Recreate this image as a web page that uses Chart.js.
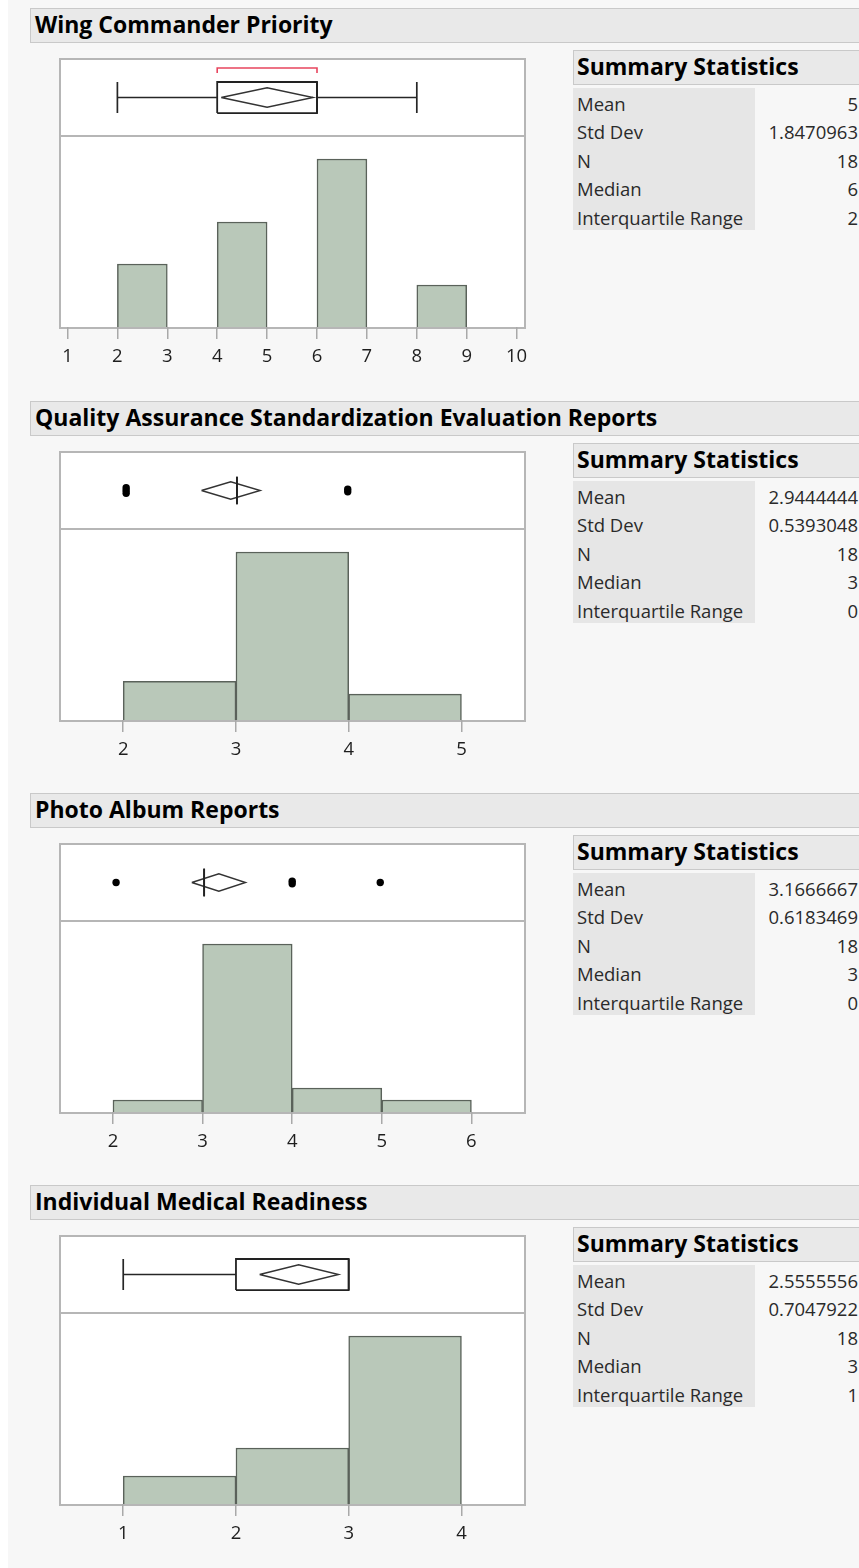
<!DOCTYPE html>
<html>
<head>
<meta charset="utf-8">
<script src="https://cdn.jsdelivr.net/npm/chart.js@4.4.1/dist/chart.umd.min.js"></script>
<style>
    html, body { margin: 0; padding: 0; background: #fff; }
    body { width: 859px; height: 1568px; overflow: hidden; position: relative; font-family: "Open Sans", sans-serif; }
    #page { position: absolute; left: 8px; top: 0; right: 0; bottom: 0; background: #f7f7f7; }
    .panel { position: absolute; left: 0; width: 859px; height: 392px; }
    .hdr {
        position: absolute; left: 30px; top: 8px; width: 840px; height: 35px; box-sizing: border-box;
        background: #e9e9e9; border: 1px solid #c9c9c9; border-right: none;
        font-weight: bold; font-size: 23px; line-height: 30px; padding-left: 4px; color: #000; white-space: nowrap;
    }
    .frame { position: absolute; left: 59px; top: 58px; width: 467px; height: 271px; box-sizing: border-box; border: 2px solid #b6b6b6; background: #fff; }
    .divider { position: absolute; left: 61px; top: 135px; width: 463px; height: 2px; background: #b6b6b6; }
    canvas { position: absolute; }
    .stats { position: absolute; left: 573px; top: 50px; width: 300px; }
    .stats-hdr {
        height: 35px; box-sizing: border-box; background: #e9e9e9; border: 1px solid #c9c9c9; border-right: none;
        font-weight: bold; font-size: 23px; line-height: 30px; padding-left: 3px; color: #000; white-space: nowrap;
    }
    .stats-rows { margin-top: 3px; }
    .row { display: flex; height: 28.4px; font-size: 18.5px; color: #2a2a2a; white-space: nowrap; }
    .row span { box-sizing: border-box; height: 28.4px; padding-top: 4px; line-height: 24px; }
    .row .lbl { width: 182px; background: #e6e6e6; padding-left: 4px; }
    .row .val { width: 103px; text-align: right; }
</style>
</head>
<body>
<div id="page"></div>
<div id="panels"></div>
<script>
// ─── Data ────────────────────────────────────────────

var statLabels = ['Mean', 'Std Dev', 'N', 'Median', 'Interquartile Range'];

// Wing Commander Priority
var wingBinStarts    = [2, 4, 6, 8];
var wingCounts       = [3, 5, 8, 2];
var wingTicks        = [1, 2, 3, 4, 5, 6, 7, 8, 9, 10];
var wingQuantiles    = [2, 4, 6, 6, 8];          // low whisker, Q1, median, Q3, high whisker
var wingMeanDiamond  = [4.08, 5, 5.92];          // lower 95%, mean, upper 95%
var wingShortestHalf = [4, 6];
var wingOutliers     = [];
var wingStats        = ['5', '1.8470963', '18', '6', '2'];

// Quality Assurance Standardization Evaluation Reports
var qaBinStarts    = [2, 3, 4];
var qaCounts       = [3, 13, 2];
var qaTicks        = [2, 3, 4, 5];
var qaQuantiles    = [3, 3, 3, 3, 3];
var qaMeanDiamond  = [2.68, 2.944, 3.21];
var qaOutliers     = [2, 2, 2, 4, 4];
var qaStats        = ['2.9444444', '0.5393048', '18', '3', '0'];

// Photo Album Reports
var photoBinStarts   = [2, 3, 4, 5];
var photoCounts      = [1, 14, 2, 1];
var photoTicks       = [2, 3, 4, 5, 6];
var photoQuantiles   = [3, 3, 3, 3, 3];
var photoMeanDiamond = [2.86, 3.167, 3.47];
var photoOutliers    = [2, 4, 4, 5];
var photoStats       = ['3.1666667', '0.6183469', '18', '3', '0'];

// Individual Medical Readiness
var medBinStarts   = [1, 2, 3];
var medCounts      = [2, 4, 12];
var medTicks       = [1, 2, 3, 4];
var medQuantiles   = [1, 2, 3, 3, 3];
var medMeanDiamond = [2.21, 2.556, 2.91];
var medOutliers    = [];
var medStats       = ['2.5555556', '0.7047922', '18', '3', '1'];

var panels = [
    { title: 'Wing Commander Priority', top: 0, xMin: 0.870, xMax: 10.148,
      bins: wingBinStarts, counts: wingCounts, ticks: wingTicks, q: wingQuantiles,
      diamond: wingMeanDiamond, shortest: wingShortestHalf, outliers: wingOutliers, stats: wingStats },
    { title: 'Quality Assurance Standardization Evaluation Reports', top: 393, xMin: 1.448, xMax: 5.555,
      bins: qaBinStarts, counts: qaCounts, ticks: qaTicks, q: qaQuantiles,
      diamond: qaMeanDiamond, shortest: null, outliers: qaOutliers, stats: qaStats },
    { title: 'Photo Album Reports', top: 785, xMin: 1.42, xMax: 6.587,
      bins: photoBinStarts, counts: photoCounts, ticks: photoTicks, q: photoQuantiles,
      diamond: photoMeanDiamond, shortest: null, outliers: photoOutliers, stats: photoStats },
    { title: 'Individual Medical Readiness', top: 1177, xMin: 0.448, xMax: 4.555,
      bins: medBinStarts, counts: medCounts, ticks: medTicks, q: medQuantiles,
      diamond: medMeanDiamond, shortest: null, outliers: medOutliers, stats: medStats }
];

// ─── Helpers ─────────────────────────────────────────

var DARK = '#262626';
var MID  = 0.5;     // box plot centre line in the box strip
var BOX  = 0.207;   // half height of box / whisker caps
var DIA  = 0.13;    // half height of mean diamond

function seg(points, color, width) {
    return {
        type: 'scatter', showLine: true, data: points,
        borderColor: color || DARK, borderWidth: width || 1.7,
        pointRadius: 0, fill: false, tension: 0
    };
}

function boxDatasets(p) {
    var q = p.q, d = p.diamond, ds = [];
    // whiskers + caps
    ds.push(seg([{ x: q[0], y: MID }, { x: q[1], y: MID }]));
    ds.push(seg([{ x: q[3], y: MID }, { x: q[4], y: MID }]));
    if (q[0] < q[1]) ds.push(seg([{ x: q[0], y: MID - BOX }, { x: q[0], y: MID + BOX }]));
    if (q[4] > q[3]) ds.push(seg([{ x: q[4], y: MID - BOX }, { x: q[4], y: MID + BOX }]));
    // box
    ds.push(seg([{ x: q[1], y: MID - BOX }, { x: q[3], y: MID - BOX }, { x: q[3], y: MID + BOX },
                 { x: q[1], y: MID + BOX }, { x: q[1], y: MID - BOX }], '#222', 1.8));
    // median
    ds.push(seg([{ x: q[2], y: MID - BOX }, { x: q[2], y: MID + BOX }], '#222', 1.8));
    // mean diamond
    ds.push(seg([{ x: d[0], y: MID }, { x: d[1], y: MID + DIA }, { x: d[2], y: MID },
                 { x: d[1], y: MID - DIA }, { x: d[0], y: MID }], '#333', 1.4));
    // shortest half bracket
    if (p.shortest) {
        ds.push(seg([{ x: p.shortest[0], y: 0.827 }, { x: p.shortest[0], y: 0.893 },
                     { x: p.shortest[1], y: 0.893 }, { x: p.shortest[1], y: 0.827 }], '#e8455e', 1.6));
    }
    // outliers, repeated values nudged apart
    if (p.outliers.length) {
        var seen = {}, k = {}, pts = [];
        p.outliers.forEach(function(v) { seen[v] = (seen[v] || 0) + 1; });
        p.outliers.forEach(function(v) {
            k[v] = (k[v] || 0);
            pts.push({ x: v, y: MID + (k[v] - (seen[v] - 1) / 2) * 0.04 });
            k[v]++;
        });
        ds.push({ type: 'scatter', data: pts, pointRadius: 3.7, pointBackgroundColor: '#000',
                  pointBorderColor: '#000', pointBorderWidth: 0 });
    }
    return ds;
}

function addDiv(parent, cls, html) {
    var d = document.createElement('div');
    d.className = cls;
    if (html) d.innerHTML = html;
    parent.appendChild(d);
    return d;
}

function addCanvas(parent, left, top, w, h) {
    var c = document.createElement('canvas');
    c.width = w; c.height = h;
    c.style.left = left + 'px'; c.style.top = top + 'px';
    c.style.width = w + 'px'; c.style.height = h + 'px';
    parent.appendChild(c);
    return c;
}

// ─── Render ──────────────────────────────────────────

Chart.defaults.font.family = '"Open Sans", sans-serif';
Chart.defaults.animation = false;

var host = document.getElementById('panels');

panels.forEach(function(p) {
    var el = addDiv(host, 'panel');
    el.style.top = p.top + 'px';
    addDiv(el, 'hdr', p.title);
    addDiv(el, 'frame');
    addDiv(el, 'divider');

    // stats table
    var st = addDiv(el, 'stats');
    addDiv(st, 'stats-hdr', 'Summary Statistics');
    var rows = statLabels.map(function(l, i) {
        return '<div class="row"><span class="lbl">' + l + '</span><span class="val">' + p.stats[i] + '</span></div>';
    }).join('');
    addDiv(st, 'stats-rows', rows);

    // box plot strip
    var boxCanvas = addCanvas(el, 61, 60, 463, 75);
    new Chart(boxCanvas.getContext('2d'), {
        type: 'scatter',
        data: { datasets: boxDatasets(p) },
        options: {
            responsive: false, animation: false,
            layout: { padding: 0 },
            plugins: { legend: { display: false }, tooltip: { enabled: false } },
            scales: {
                x: { type: 'linear', min: p.xMin, max: p.xMax, display: false },
                y: { type: 'linear', min: 0, max: 1, display: false }
            }
        }
    });

    // histogram
    var histCanvas = addCanvas(el, 41, 137, 503, 236);
    var maxCount = Math.max.apply(null, p.counts);
    new Chart(histCanvas.getContext('2d'), {
        type: 'bar',
        data: {
            datasets: [{
                data: p.bins.map(function(b, i) { return { x: b + 0.5, y: p.counts[i] }; }),
                backgroundColor: '#b9c8b9',
                borderColor: '#5a625a',
                borderWidth: 1.5,
                barPercentage: 1, categoryPercentage: 1
            }]
        },
        options: {
            responsive: false, animation: false,
            layout: { padding: { left: 20, right: 20, top: 0, bottom: 0 } },
            plugins: { legend: { display: false }, tooltip: { enabled: false } },
            scales: {
                x: {
                    type: 'linear', min: p.xMin, max: p.xMax, offset: false,
                    afterBuildTicks: function(axis) {
                        axis.ticks = p.ticks.map(function(v) { return { value: v }; });
                    },
                    afterFit: function(axis) { axis.height = 46; },
                    grid: { offset: false, drawOnChartArea: false, drawTicks: true, tickLength: 12, color: '#a9a9a9', lineWidth: 1.5 },
                    border: { display: false },
                    ticks: { autoSkip: false, maxRotation: 0, padding: 7, color: '#1e1e1e', font: { size: 18.5 },
                             callback: function(v) { return v; } }
                },
                y: { min: 0, max: maxCount * 1.131, display: false }
            }
        }
    });
});
</script>
</body>
</html>
